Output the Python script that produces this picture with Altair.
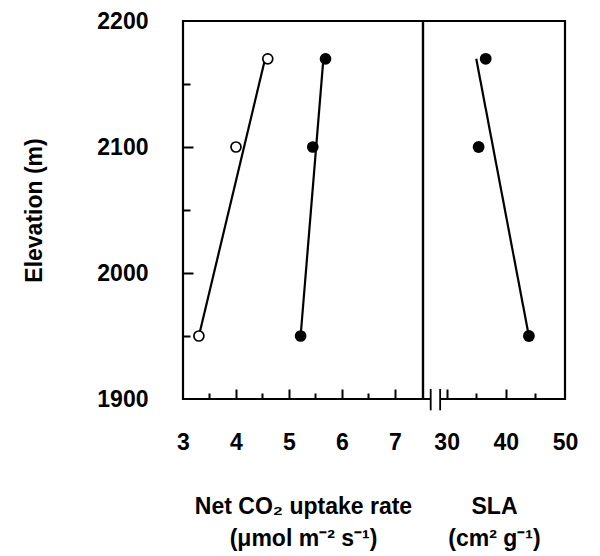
import altair as alt
import pandas as pd

# ---- data ----
elevation = [1950, 2100, 2170]
co2_open = [3.3, 4.0, 4.6]
co2_filled = [5.22, 5.45, 5.69]
sla = [43.9, 35.4, 36.6]

fit_elev = [1950, 2170]
fit_co2_open = [3.3, 4.55]
fit_co2_filled = [5.22, 5.65]
fit_sla_elev = [2170, 1951]
fit_sla = [35.0, 43.85]

co2_labels = [3, 4, 5, 6, 7]
co2_ticks = [3.5, 4, 4.5, 5, 5.5, 6, 6.5, 7]
sla_labels = [30, 40, 50]
sla_ticks = [30, 35, 40, 45]
elev_labels = [1900, 2000, 2100, 2200]
elev_ticks = [1950, 2000, 2050, 2100, 2150]
break_sla = [27.3, 28.9]
break_elev = [1891, 1908]

H = 378
W1 = 240
W2 = 142
FONT = "Liberation Sans"

pts_df = pd.DataFrame({
    "elev": elevation * 2,
    "co2": co2_open + co2_filled,
    "series": ["open"] * 3 + ["filled"] * 3,
})
fit_df = pd.DataFrame({
    "elev": fit_elev * 2,
    "co2": fit_co2_open + fit_co2_filled,
    "series": ["open"] * 2 + ["filled"] * 2,
})
sla_df = pd.DataFrame({"elev": elevation, "sla": sla})
sla_fit_df = pd.DataFrame({"elev": fit_sla_elev, "sla": fit_sla})
brk_df = pd.DataFrame({"x": break_sla, "y": [break_elev[0]] * 2, "y2": [break_elev[1]] * 2})
gap_df = pd.DataFrame({"x": [break_sla[0]], "x2": [break_sla[1]], "y": [elev_labels[0]]})

y_scale = alt.Scale(domain=[1900, 2200], nice=False, zero=False)
x1_scale = alt.Scale(domain=[3, 7.53], nice=False, zero=False)
x2_scale = alt.Scale(domain=[26, 50], nice=False, zero=False)

common = dict(domain=False, ticks=False, tickSize=0, grid=False,
              labelFont=FONT, labelFontSize=23, labelFontWeight="bold",
              labelColor="black",
              titleFont=FONT, titleFontSize=23, titleFontWeight="bold",
              titleColor="black")


def tick_axis(orient, offset, values, test, major, minor):
    return alt.Axis(orient=orient, offset=offset, values=values, labels=False,
                    domain=False, grid=False, title=None, ticks=True,
                    tickColor="black", tickWidth=2,
                    tickSize={"condition": {"test": test, "value": major}, "value": minor})


x1_label_axis = alt.Axis(orient="bottom", values=co2_labels, format="d",
                         labelPadding=32, labelFlush=False,
                         title=["Net  CO₂  uptake  rate", "(μmol  m⁻²  s⁻¹)"],
                         titlePadding=41, titleLineHeight=32, **common)
y_label_axis = alt.Axis(orient="left", values=elev_labels, format="d",
                        labelPadding=35, title="Elevation (m)", titlePadding=50,
                        **common)
x2_label_axis = alt.Axis(orient="bottom", values=sla_labels, format="d",
                         labelPadding=32, labelFlush=False,
                         title=["SLA", "(cm²  g⁻¹)"],
                         titlePadding=41, titleLineHeight=32, **common)

fill_scale = alt.Scale(domain=["open", "filled"], range=["white", "black"])

# ---- left panel ----
left_lines = alt.Chart(fit_df).mark_line(color="black", strokeWidth=2.2).encode(
    x=alt.X("co2:Q", scale=x1_scale,
            axis=tick_axis("top", -H, co2_ticks, "datum.value % 1 === 0", 10, 6)),
    y=alt.Y("elev:Q", scale=y_scale,
            axis=tick_axis("right", -W1, elev_ticks, "datum.value % 100 === 0", 10, 7)),
    detail="series:N",
)
left_pts = alt.Chart(pts_df).mark_circle(size=100, stroke="black", strokeWidth=1.7,
                                         opacity=1, fillOpacity=1).encode(
    x=alt.X("co2:Q", scale=x1_scale, axis=x1_label_axis),
    y=alt.Y("elev:Q", scale=y_scale, axis=y_label_axis),
    fill=alt.Fill("series:N", scale=fill_scale, legend=None),
)
left = alt.layer(left_lines, left_pts).resolve_axis(x="independent", y="independent").properties(
    width=W1, height=H)

# ---- right panel ----
gap = alt.Chart(gap_df).mark_rule(color="white", strokeWidth=5).encode(
    x=alt.X("x:Q", scale=x2_scale, axis=None),
    x2="x2:Q",
    y=alt.Y("y:Q", scale=y_scale, axis=None),
)
right_line = alt.Chart(sla_fit_df).mark_line(color="black", strokeWidth=2.2).encode(
    x=alt.X("sla:Q", scale=x2_scale,
            axis=tick_axis("top", -H, sla_ticks, "datum.value % 10 === 0", 10, 6)),
    y=alt.Y("elev:Q", scale=y_scale, axis=None),
)
right_pts = alt.Chart(sla_df).mark_circle(size=140, color="black", opacity=1).encode(
    x=alt.X("sla:Q", scale=x2_scale, axis=x2_label_axis),
    y=alt.Y("elev:Q", scale=y_scale, axis=None),
)
breaks = alt.Chart(brk_df).mark_rule(color="black", strokeWidth=1.8).encode(
    x=alt.X("x:Q", scale=x2_scale, axis=None),
    y=alt.Y("y:Q", scale=y_scale, axis=None),
    y2="y2:Q",
)
right = alt.layer(gap, right_line, right_pts, breaks).resolve_axis(
    x="independent", y="independent").properties(width=W2, height=H)

chart = alt.hconcat(left, right, spacing=0, bounds="flush").resolve_scale(
    x="independent", y="independent"
).properties(
    padding={"left": 14, "top": 0, "right": 5, "bottom": 0},
    background="white",
).configure_view(stroke="black", strokeWidth=2.2)

chart.save("out.html", embed_options={"renderer": "svg", "actions": False})
